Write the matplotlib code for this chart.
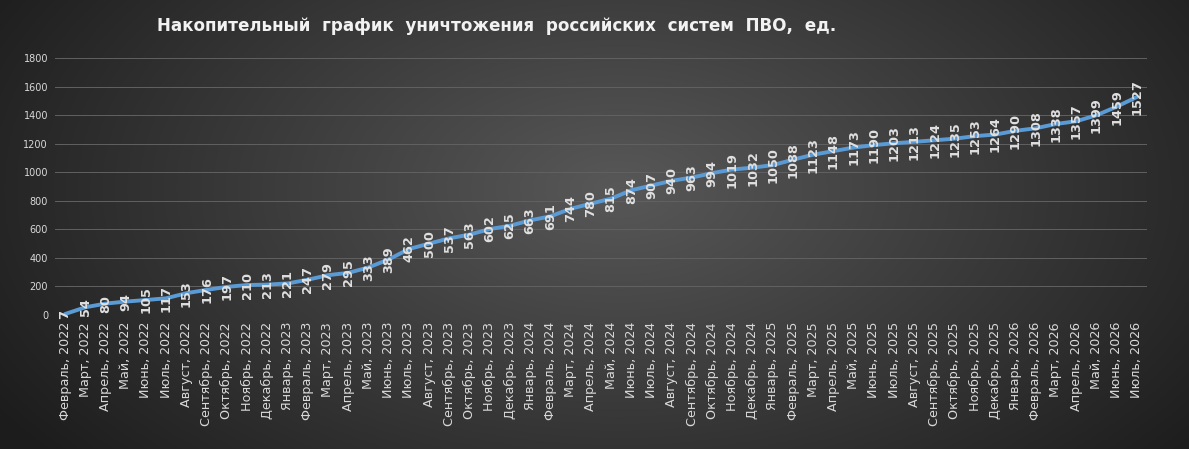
import numpy as np
import matplotlib
matplotlib.use("Agg")
import matplotlib.pyplot as plt

months = ["Февраль", "Март", "Апрель", "Май", "Июнь", "Июль", "Август", "Сентябрь",
          "Октябрь", "Ноябрь", "Декабрь", "Январь"]
categories = (
    [f"{m}, 2022" for m in months[:11]] +
    [f"{m}, 2023" for m in ["Январь"] + months[:11]] +
    [f"{m}, 2024" for m in ["Январь"] + months[:11]] +
    [f"{m}, 2025" for m in ["Январь"] + months[:11]] +
    [f"{m}, 2026" for m in ["Январь", "Февраль", "Март", "Апрель", "Май", "Июнь", "Июль"]]
)
values = [7, 54, 80, 94, 105, 117, 153, 176, 197, 210, 213, 221, 247, 279, 295, 333,
          389, 462, 500, 537, 563, 602, 625, 663, 691, 744, 780, 815, 874, 907, 940,
          963, 994, 1019, 1032, 1050, 1088, 1123, 1148, 1173, 1190, 1203, 1213, 1224,
          1235, 1253, 1264, 1290, 1308, 1338, 1357, 1399, 1459, 1527]
yticks = [0, 200, 400, 600, 800, 1000, 1200, 1400, 1600, 1800]
title = "Накопительный  график  уничтожения  российских  систем  ПВО,  ед."

plt.rcParams['font.family'] = ['DejaVu Sans']

W, H = 1189, 449
fig = plt.figure(figsize=(W / 100, H / 100), dpi=100)

# radial gradient background
bg = fig.add_axes([0, 0, 1, 1])
yy, xx = np.mgrid[0:H, 0:W]
cx, cy = W * 0.52, H * 0.42
r = np.sqrt(((xx - cx) / (W * 0.62)) ** 2 + ((yy - cy) / (H * 0.95)) ** 2)
r = np.clip(r, 0, 1)
c0 = np.array([0x58, 0x58, 0x58]) / 255
c1 = np.array([0x1c, 0x1c, 0x1c]) / 255
img = c0[None, None, :] * (1 - r[..., None]) + c1[None, None, :] * r[..., None]
bg.imshow(img, aspect='auto', extent=[0, 1, 0, 1])
bg.axis('off')

ax = fig.add_axes([55 / W, 1 - 315 / H, (1147 - 55) / W, (315 - 58) / H])
ax.patch.set_alpha(0)
x = np.arange(len(values))
ax.plot(x, values, color='#5b9bd5', lw=2.8, solid_capstyle='round', zorder=3)
for xi, v in zip(x, values):
    ax.text(xi, v, str(v), rotation=90, ha='center', va='center', color='#e0e0e0',
            fontsize=9.3, fontweight='bold', zorder=4)

ax.set_xlim(-0.5, len(values) - 0.5)
ax.set_ylim(0, 1800)
ax.set_yticks(yticks)
ax.set_yticklabels([str(t) for t in yticks], fontsize=7, color='#d9d9d9')
ax.set_xticks(x)
ax.set_xticklabels(categories, rotation=90, fontsize=9.2, color='#d9d9d9')
ax.tick_params(axis='both', length=0, pad=5)
ax.tick_params(axis='x', pad=5)
ax.grid(axis='y', color='#616161', lw=0.7)
ax.set_axisbelow(True)
for s in ax.spines.values():
    s.set_visible(False)

fig.text(497 / W, 1 - 26 / H, title, ha='center', va='center', color='#f2f2f2',
         fontsize=12.1, fontweight='bold')

fig.savefig("out.png", dpi=100)
